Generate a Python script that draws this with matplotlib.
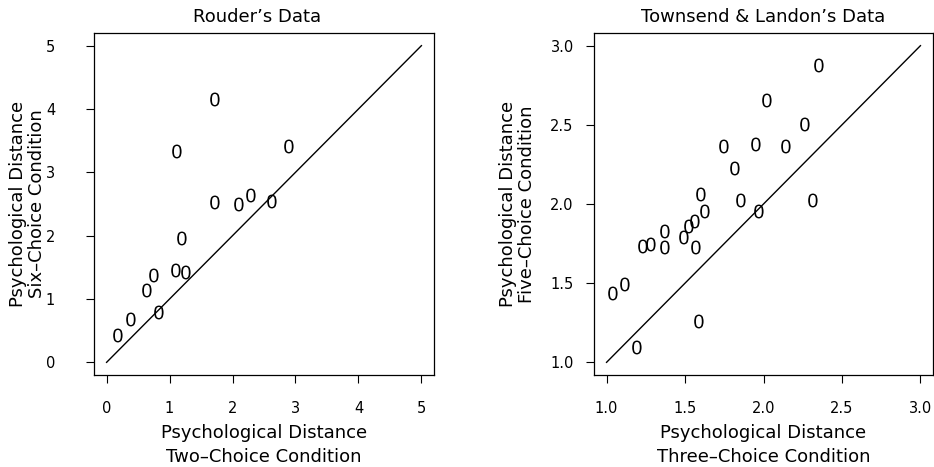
import numpy as np
import matplotlib
matplotlib.use("Agg")
import matplotlib.pyplot as plt
from matplotlib.textpath import TextPath
from matplotlib.font_manager import FontProperties

plt.rcParams['font.family'] = ['DejaVu Sans']

# Rouder's data: two-choice vs six-choice psychological distances
rouder_two = [0.16, 0.37, 0.63, 0.74, 0.82, 1.08, 1.25, 1.18, 1.11, 1.70,
              1.70, 2.09, 2.27, 2.61, 2.88]
rouder_six = [0.43, 0.68, 1.15, 1.38, 0.80, 1.46, 1.42, 1.97, 3.34, 4.16,
              2.53, 2.50, 2.64, 2.55, 3.41]

# Townsend & Landon's data: three-choice vs five-choice
tl_three = [1.034, 1.114, 1.19, 1.224, 1.279, 1.363, 1.369, 1.485, 1.519, 1.555,
            1.563, 1.595, 1.618, 1.585, 1.745, 1.812, 1.848, 1.943, 1.968, 2.015,
            2.135, 2.258, 2.308, 2.348]
tl_five = [1.44, 1.495, 1.097, 1.733, 1.748, 1.727, 1.828, 1.792, 1.859, 1.891,
           1.731, 2.061, 1.954, 1.259, 2.369, 2.23, 2.026, 2.382, 1.954, 2.655,
           2.369, 2.508, 2.026, 2.879]

# identity lines
diag_left = [0, 5]
diag_right = [1, 3]

left_ticks = [0, 1, 2, 3, 4, 5]
right_ticks = [1.0, 1.5, 2.0, 2.5, 3.0]

# the points are plotted as a thin "0" glyph, like R's pch="0"
zero = TextPath((0, 0), "0", size=10,
                prop=FontProperties(family='Liberation Sans'))
verts = zero.vertices.copy()
verts -= (verts.max(axis=0) + verts.min(axis=0)) / 2
zero_marker = matplotlib.path.Path(verts, zero.codes)

fig = plt.figure(figsize=(9.34, 4.67), dpi=100)
W, H = 934, 467

ax1 = fig.add_axes([94 / W, 1 - 375 / H, 340 / W, 342 / H])
ax2 = fig.add_axes([594 / W, 1 - 375 / H, 339 / W, 342 / H])

mk = dict(linestyle='none', marker=zero_marker, markersize=10, color='black',
          markeredgewidth=0)

ax1.plot(rouder_two, rouder_six, **mk)
ax1.plot(diag_left, diag_left, color='black', linewidth=1.0)
ax1.set_xlim(-0.2, 5.2)
ax1.set_ylim(-0.2, 5.2)
ax1.set_xticks(left_ticks)
ax1.set_yticks(left_ticks)
ax1.set_xticklabels([str(t) for t in left_ticks])
ax1.set_yticklabels([str(t) for t in left_ticks])
ax1.set_title("Rouder\u2019s Data", fontsize=13, pad=8, x=0.479)
ax1.set_xlabel("Psychological Distance\nTwo\u2013Choice Condition",
               fontsize=13, linespacing=1.45)
ax1.set_ylabel("Psychological Distance\nSix\u2013Choice Condition",
               fontsize=13, linespacing=1.05)
ax1.tick_params(axis='y', pad=22)

ax2.plot(tl_three, tl_five, **mk)
ax2.plot(diag_right, diag_right, color='black', linewidth=1.0)
ax2.set_xlim(0.92, 3.08)
ax2.set_ylim(0.92, 3.08)
ax2.set_xticks(right_ticks)
ax2.set_yticks(right_ticks)
ax2.set_xticklabels(["%.1f" % t for t in right_ticks])
ax2.set_yticklabels(["%.1f" % t for t in right_ticks])
ax2.set_title("Townsend & Landon\u2019s Data", fontsize=13, pad=8)
ax2.set_xlabel("Psychological Distance\nThree\u2013Choice Condition",
               fontsize=13, linespacing=1.45)
ax2.set_ylabel("Psychological Distance\nFive\u2013Choice Condition",
               fontsize=13, linespacing=1.05)
ax2.tick_params(axis='y', pad=8.6)

for ax in (ax1, ax2):
    for s in ax.spines.values():
        s.set_linewidth(0.9)
    ax.tick_params(direction='out', length=6, width=0.8, labelsize=10.5)
    ax.tick_params(axis='x', pad=13)
    ax.xaxis.set_label_coords(0.5, -0.143)

ax1.yaxis.set_label_coords(-0.141, 0.5)
ax2.yaxis.set_label_coords(-0.171, 0.5)

fig.savefig("out.png", dpi=100)
